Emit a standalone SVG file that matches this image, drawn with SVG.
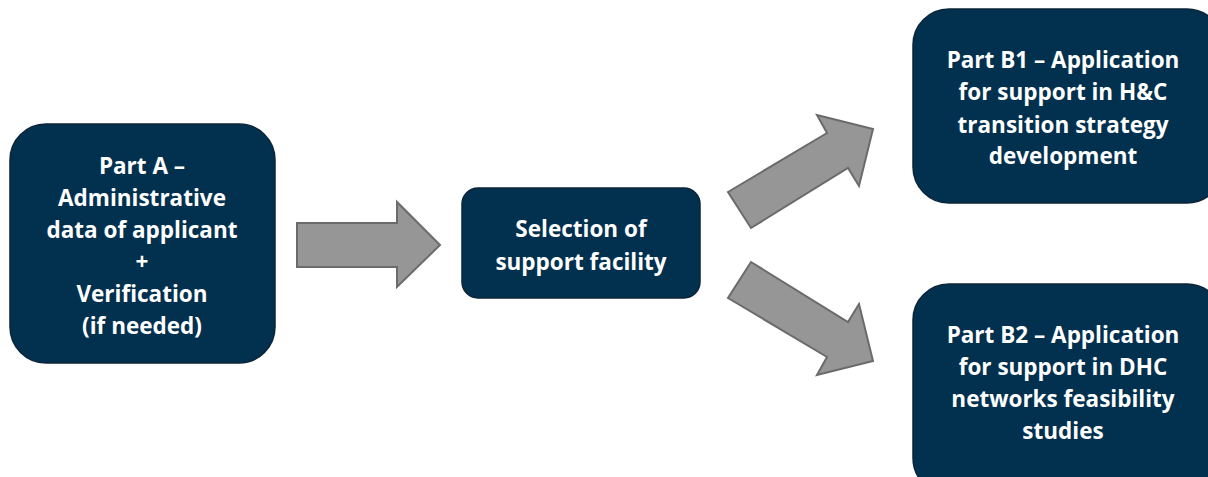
<svg xmlns="http://www.w3.org/2000/svg" width="1208" height="477" viewBox="0 0 1208 477">
<style>
.box{fill:#02304f;stroke:#0b2438;stroke-width:1.5}
.t{font-family:"Open Sans","Liberation Sans",sans-serif;font-weight:bold;font-size:22.5px;fill:#ffffff;text-anchor:middle}
.arr{fill:#969696;stroke:#6b6b6b;stroke-width:2;stroke-linejoin:miter}
</style>
<rect width="1208" height="477" fill="#ffffff"/>
<g id="partA">
<rect class="box" x="10" y="124" width="265" height="239" rx="36"/>
<text class="t" x="142" y="174">Part A –</text>
<text class="t" x="142" y="206">Administrative</text>
<text class="t" x="142" y="238">data of applicant</text>
<text class="t" x="142" y="270">+</text>
<text class="t" x="142" y="302">Verification</text>
<text class="t" x="142" y="334">(if needed)</text>
</g>
<g id="selection">
<rect class="box" x="462" y="188" width="238" height="110" rx="16"/>
<text class="t" x="581" y="237">Selection of</text>
<text class="t" x="581" y="270">support facility</text>
</g>
<g id="partB1">
<rect class="box" x="913" y="9" width="310" height="194" rx="36"/>
<text class="t" x="1063" y="68">Part B1 – Application</text>
<text class="t" x="1063" y="100">for support in H&amp;C</text>
<text class="t" x="1063" y="133">transition strategy</text>
<text class="t" x="1063" y="164">development</text>
</g>
<g id="partB2">
<rect class="box" x="913" y="284" width="310" height="210" rx="36"/>
<text class="t" x="1063" y="343">Part B2 – Application</text>
<text class="t" x="1063" y="375">for support in DHC</text>
<text class="t" x="1063" y="407">networks feasibility</text>
<text class="t" x="1063" y="439">studies</text>
</g>
<g id="connectors">
<polygon class="arr" points="297,223 397,223 397,202 440,245 397,287 397,267 297,267"/>
<polygon class="arr" points="728,192 827,133 817,115 873,129 859,186 848,168 751,228"/>
<polygon class="arr" points="751,262 848,322 859,304 873,361 817,375 827,357 728,298"/>
</g>
</svg>
